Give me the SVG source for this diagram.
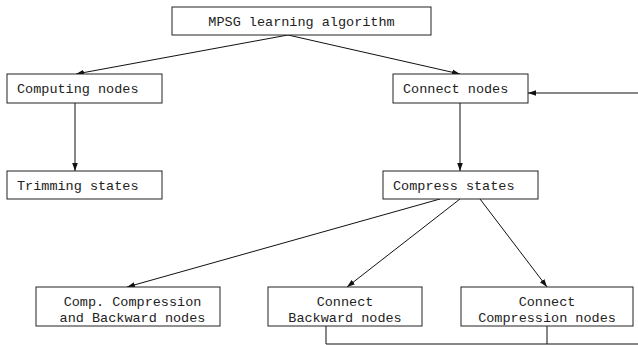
<svg xmlns="http://www.w3.org/2000/svg" width="638" height="345" viewBox="0 0 638 345">
<style>
.box{fill:#fff;stroke:#222;stroke-width:1}
.t{font-family:"Liberation Mono","Courier New",monospace;font-size:13.5px;fill:#222}
.m{text-anchor:middle}
.c{fill:none;stroke:#111;stroke-width:1}
</style>
<defs>
<marker id="ah" viewBox="0 0 10 10" refX="10" refY="5" markerWidth="8" markerHeight="8" markerUnits="userSpaceOnUse" orient="auto">
<path d="M0,1.5 L10,5 L0,8.5 Z" fill="#111"/>
</marker>
</defs>
<rect width="638" height="345" fill="#fff"/>
<g id="connectors">
<line class="c" x1="288" y1="35" x2="76" y2="74" marker-end="url(#ah)"/>
<line class="c" x1="288" y1="35" x2="460" y2="74" marker-end="url(#ah)"/>
<line class="c" x1="75" y1="103" x2="75" y2="171" marker-end="url(#ah)"/>
<line class="c" x1="460" y1="103" x2="460" y2="171" marker-end="url(#ah)"/>
<line class="c" x1="638" y1="93" x2="528" y2="93" marker-end="url(#ah)"/>
<line class="c" x1="440" y1="199" x2="127" y2="287" marker-end="url(#ah)"/>
<line class="c" x1="460" y1="199" x2="347" y2="287" marker-end="url(#ah)"/>
<line class="c" x1="480" y1="199" x2="547" y2="287" marker-end="url(#ah)"/>
<polyline class="c" points="326,326 326,344 638,344"/>
<line class="c" x1="547" y1="326" x2="547" y2="344"/>
</g>
<g id="mpsg">
<rect class="box" x="172" y="7" width="259" height="28"/>
<text class="t m" x="301.5" y="26">MPSG learning algorithm</text>
</g>
<g id="computing">
<rect class="box" x="7" y="74" width="155" height="29"/>
<text class="t" x="17" y="93">Computing nodes</text>
</g>
<g id="trimming">
<rect class="box" x="7" y="171" width="155" height="28"/>
<text class="t" x="17" y="190">Trimming states</text>
</g>
<g id="connect">
<rect class="box" x="393" y="74" width="135" height="29"/>
<text class="t" x="403" y="93">Connect nodes</text>
</g>
<g id="compress">
<rect class="box" x="383" y="171" width="155" height="28"/>
<text class="t" x="393" y="190">Compress states</text>
</g>
<g id="compcomp">
<rect class="box" x="36" y="287" width="184" height="39"/>
<text class="t m" x="132.5" y="306">Comp. Compression</text>
<text class="t m" x="132.5" y="322">and Backward nodes</text>
</g>
<g id="connback">
<rect class="box" x="268" y="287" width="154" height="39"/>
<text class="t m" x="345" y="306">Connect</text>
<text class="t m" x="345" y="322">Backward nodes</text>
</g>
<g id="conncomp">
<rect class="box" x="461" y="287" width="172" height="39"/>
<text class="t m" x="547" y="306">Connect</text>
<text class="t m" x="547" y="322">Compression nodes</text>
</g>
</svg>
